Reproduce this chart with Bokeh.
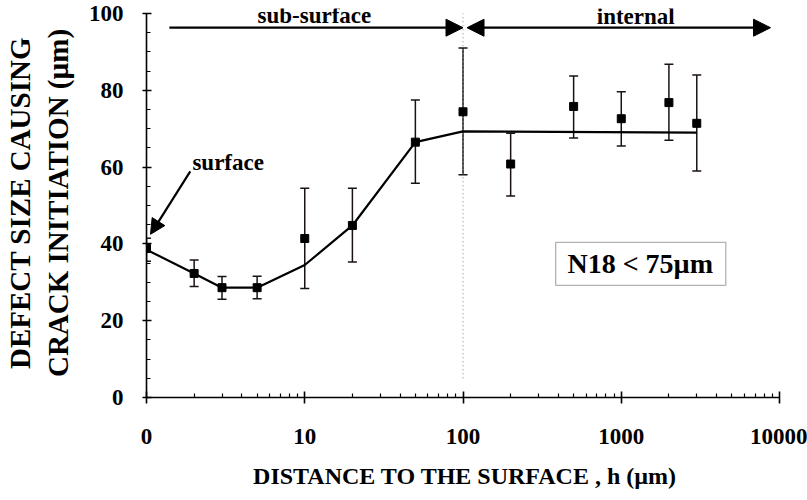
from bokeh.plotting import figure
from bokeh.models import (ColumnDataSource, Range1d, FixedTicker, Whisker, TeeHead,
                          Arrow, NormalHead, Label, BoxAnnotation)
from bokeh.embed import file_html
from bokeh.resources import INLINE

# ---- data ----
h_um = [1, 2, 3, 5, 10, 20, 50, 100, 200, 500, 1000, 2000, 3000]
defect_size = [38.8, 32.3, 28.6, 28.6, 41.4, 44.8, 66.5, 74.4, 60.8, 75.8, 72.6, 76.8, 71.4]
err_upper = [41.5, 35.8, 31.5, 31.6, 54.5, 54.5, 77.5, 91.0, 68.8, 83.7, 79.6, 86.8, 84.0]
err_lower = [35.5, 28.9, 25.6, 25.7, 28.4, 35.3, 55.8, 58.0, 52.5, 67.6, 65.5, 67.0, 59.0]

fit_h = [1, 2, 3, 5, 10, 20, 50, 100, 3000]
fit_size = [38.5, 32.3, 28.6, 28.6, 34.5, 44.8, 66.5, 69.3, 69.0]

x_ticks = [1, 10, 100, 1000, 10000]
x_tick_labels = ["0", "10", "100", "1000", "10000"]
y_ticks = [0, 20, 40, 60, 80, 100]

FONT = "Liberation Serif"

p = figure(width=807, height=500, x_axis_type="log",
           x_range=Range1d(1, 10595), y_range=Range1d(0, 101.3),
           output_backend="svg", toolbar_location=None,
           min_border_left=143, min_border_right=24, min_border_top=8,
           min_border_bottom=103)
p.outline_line_color = None
p.xgrid.visible = False
p.ygrid.visible = False
p.background_fill_color = "white"
p.border_fill_color = "white"

# ---- axes ----
xa = p.xaxis[0]
minor_x = [m * d for d in [1, 10, 100, 1000] for m in range(2, 10)]
xa.ticker = FixedTicker(ticks=x_ticks, minor_ticks=minor_x)
xa.major_label_overrides = {t: l for t, l in zip(x_ticks, x_tick_labels)}
xa.bounds = (1, 10000)
xa.axis_label = "DISTANCE TO THE SURFACE , h (\u00b5m)"

ya = p.yaxis[0]
minor_y = [v for v in range(5, 100, 5) if v % 20 != 0]
ya.ticker = FixedTicker(ticks=y_ticks, minor_ticks=minor_y)
ya.bounds = (0, 100)
ya.axis_label = "DEFECT SIZE CAUSING\nCRACK INITIATION (\u00b5m)"

for ax in (xa, ya):
    ax.axis_line_color = "black"
    ax.axis_line_width = 1.6
    ax.major_tick_line_color = "black"
    ax.minor_tick_line_color = "black"
    ax.major_tick_line_width = 1.6
    ax.minor_tick_line_width = 1.2
    ax.major_label_text_font = FONT
    ax.major_label_text_font_style = "bold"
    ax.major_label_text_font_size = "23px"
    ax.major_label_text_color = "black"
    ax.axis_label_text_font = FONT
    ax.axis_label_text_font_style = "bold"
    ax.axis_label_text_color = "black"

xa.major_tick_in = 6
xa.major_tick_out = 6
xa.minor_tick_in = 4
xa.minor_tick_out = 0
xa.major_label_standoff = 25
xa.axis_label_text_font_size = "24px"
xa.axis_label_standoff = 16

ya.major_tick_in = 5
ya.major_tick_out = 4
ya.minor_tick_in = 4
ya.minor_tick_out = 0
ya.major_label_standoff = 19
ya.axis_label_text_font_size = "29px"
ya.axis_label_standoff = 12

# ---- dotted separator at h = 100 ----
p.segment(x0=[100], y0=[5], x1=[100], y1=[100], line_color="#9a9a9a",
          line_width=1.2, line_dash="1 3")

# ---- fitted curve ----
p.line(fit_h, fit_size, line_color="black", line_width=2.2)

# ---- data with error bars ----
src = ColumnDataSource(dict(h=h_um, s=defect_size, up=err_upper, lo=err_lower))
wh = Whisker(source=src, base="h", upper="up", lower="lo",
             line_color="#1a1212", line_width=1.5,
             upper_head=TeeHead(size=9, line_width=1.5, line_color="#1a1212"),
             lower_head=TeeHead(size=9, line_width=1.5, line_color="#1a1212"))
p.add_layout(wh)
p.scatter("h", "s", source=src, marker="square", size=8, fill_color="black",
          line_color="black")

# ---- region arrows and labels ----
ARROW_Y = 96.3
p.add_layout(Arrow(x_start=1.395, y_start=ARROW_Y, x_end=100, y_end=ARROW_Y,
                   line_width=2.2, line_color="black", start=None,
                   end=NormalHead(size=17, fill_color="black", line_color="black")))
p.add_layout(Arrow(x_start=106, y_start=ARROW_Y, x_end=8774, y_end=ARROW_Y,
                   line_width=2.2, line_color="black",
                   start=NormalHead(size=17, fill_color="black", line_color="black"),
                   end=NormalHead(size=17, fill_color="black", line_color="black")))

def text(x, y, t, size, align="center", baseline="alphabetic"):
    p.add_layout(Label(x=x, y=y, text=t, text_font=FONT, text_font_style="bold",
                       text_font_size=size, text_align=align, text_baseline=baseline,
                       text_color="black"))

text(11.5, 99.4, "sub-surface", "23px")
text(1234, 99.2, "internal", "23px")
text(1.95, 61.2, "surface", "23px", align="left")

p.add_layout(Arrow(x_start=1.89, y_start=58.9, x_end=1.06, y_end=42.5,
                   line_width=2.2, line_color="black",
                   end=NormalHead(size=15, fill_color="black", line_color="black")))

# ---- boxed note ----
p.add_layout(BoxAnnotation(left=385, right=4575, bottom=29.2, top=40.4,
                           fill_color="white", fill_alpha=1.0,
                           line_color="black", line_width=1.3, level="overlay"))
p.add_layout(Label(x=1318, y=34.8, text="N18 < 75\u00b5m", text_font=FONT,
                   text_font_style="bold", text_font_size="28px",
                   text_align="center", text_baseline="middle",
                   text_color="black", level="overlay"))

open("out.html", "w").write(file_html(p, INLINE))
